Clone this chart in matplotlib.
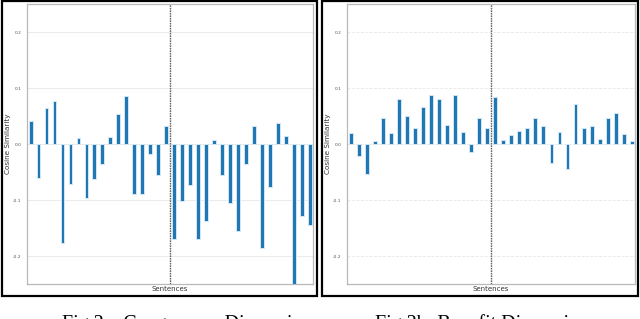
import matplotlib
matplotlib.use("Agg")
import matplotlib.pyplot as plt
from matplotlib.patches import Rectangle
import numpy as np

# Data
sentences = list(range(36))
congruence = [0.041, -0.061, 0.064, 0.076, -0.177, -0.071, 0.010, -0.097, -0.063, -0.035,
              0.0125, 0.054, 0.085, -0.089, -0.089, -0.017, -0.056, 0.033,
              -0.170, -0.101, -0.074, -0.169, -0.137, 0.007, -0.055, -0.105, -0.155, -0.036,
              0.033, -0.185, -0.077, 0.0375, 0.015, -0.250, -0.128, -0.145]
benefit = [0.0196, -0.021, -0.053, 0.006, 0.047, 0.020, 0.080, 0.050, 0.0286, 0.0655,
           0.0875, 0.080, 0.0345, 0.0875, 0.021, -0.014, 0.047, 0.0286,
           0.0845, 0.0077, 0.0155, 0.024, 0.029, 0.047, 0.033, -0.034, 0.0214, -0.044,
           0.0714, 0.029, 0.032, 0.009, 0.047, 0.0548, 0.018, 0.006]
yticks = [0.2, 0.1, 0.0, -0.1, -0.2]
captions = ["Fig 2a: Congruence Dimension", "Fig 2b: Benefit Dimension"]

W, H = 640, 319
fig = plt.figure(figsize=(W / 100, H / 100), dpi=100)

def fx(px):
    return px / W

def fy(py):
    return 1 - py / H

# outer black boxes
for (x0, x1, y0, y1) in [(2, 317, 1, 296), (322, 638, 1, 296)]:
    fig.patches.append(Rectangle((fx(x0), fy(y1)), fx(x1 - x0), (y1 - y0) / H,
                                 transform=fig.transFigure, fill=False,
                                 edgecolor="black", linewidth=1.6))

axes_px = [(27, 313), (347, 635)]
datasets = [congruence, benefit]
grid_ls = ["-", "--"]
for (ax0, ax1), data, gls in zip(axes_px, datasets, grid_ls):
    ax = fig.add_axes([fx(ax0), fy(284), fx(ax1 - ax0), (284 - 4) / H])
    ax.bar(sentences, data, width=0.48, color="#1f77b4", edgecolor="#d4e6f4", linewidth=0.7,
           zorder=3)
    ax.set_xlim(-0.45, 35.4)
    ax.set_ylim(-0.25, 0.25)
    ax.set_yticks(yticks)
    ax.set_yticklabels([f"{t:.1f}" for t in yticks], fontsize=3.2, color="#555555")
    ax.set_xticks([])
    ax.tick_params(axis="y", length=0, pad=4)
    ax.grid(axis="y", color="#e8e8e8", linewidth=0.6, linestyle=gls, zorder=0)
    ax.axvline(17.5, color="#666666", linestyle=(0, (1.2, 0.6)), linewidth=1.0, zorder=4)
    for s in ax.spines.values():
        s.set_color("#b8b8b8")
        s.set_linewidth(0.9)
    ax.set_xlabel("Sentences", fontsize=5.0, color="#333333", labelpad=1.5)
    ax.set_ylabel("Cosine Similarity", fontsize=5.2, color="#333333", labelpad=1.5)

fig.text(fx(62), fy(314.5), captions[0], fontsize=14.4, family="Liberation Serif",
         ha="left", va="top")
fig.text(fx(375), fy(314.5), captions[1], fontsize=14.4, family="Liberation Serif",
         ha="left", va="top")

fig.savefig("out.png", dpi=100)
